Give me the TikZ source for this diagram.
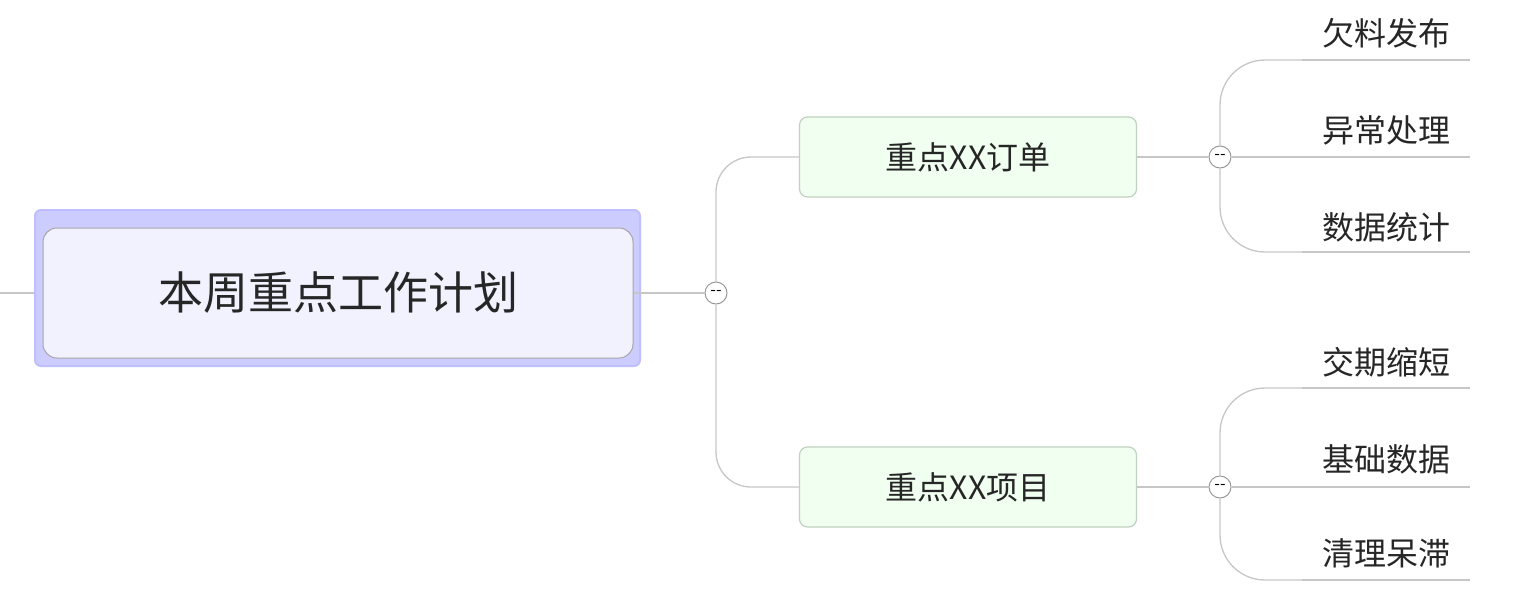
\documentclass[tikz,border=0pt]{standalone}
\usepackage{fontspec}
\newfontfamily\cjk{Noto Sans CJK SC}
\begin{document}
\begin{tikzpicture}[x=1pt,y=-1pt,
  ln/.style={draw=black!22, line width=1.3pt},
  tog/.style={circle, draw=black!40, fill=white, line width=1pt, minimum size=22pt, inner sep=0pt, font=\cjk\fontsize{16}{16}\selectfont},
  child/.style={draw=green!30!black!25, fill=green!25!black!3!white, fill=green!6, rounded corners=8pt, line width=1.2pt, minimum width=337pt, minimum height=80pt, font=\cjk\fontsize{32}{32}\selectfont, text=black!85},
  leaf/.style={font=\cjk\fontsize{32}{32}\selectfont, text=black!85, anchor=center}]
\useasboundingbox (0,0) rectangle (1529,600);
\fill[white] (0,0) rectangle (1529,600);
% main node
\node[draw=blue!25, fill=blue!20, line width=2pt, rounded corners=6pt, minimum width=605pt, minimum height=156pt] (mo) at (337.5,288) {};
\node[draw=black!35, fill=blue!5, line width=1pt, rounded corners=14pt, minimum width=590pt, minimum height=130pt, font=\cjk\fontsize{45}{45}\selectfont, text=black!85] (m) at (338,293) {本周重点工作计划};
\coordinate (l0) at (0,293);
\draw[ln] (l0) -- (mo.west |- l0);
\node[tog] (t0) at (716,293) {--};
\draw[ln] (m.east) -- (t0.west);
\node[child] (c1) at (968,157) {重点XX订单};
\node[child] (c2) at (968,487) {重点XX项目};
\draw[ln, rounded corners=35pt] (t0.north) |- (c1.west);
\draw[ln, rounded corners=35pt] (t0.south) |- (c2.west);
\node[tog] (t1) at (1220,157) {--};
\node[tog] (t2) at (1220,487) {--};
\draw[ln] (c1.east) -- (t1.west);
\draw[ln] (c2.east) -- (t2.west);
% leaves
\foreach \n/\t/\ty/\uy in {a/欠料发布/33/60, b/异常处理/130/157, c/数据统计/227/252, d/交期缩短/362/388, e/基础数据/459/487, f/清理呆滞/553/580}{
  \node[leaf] (\n) at (1386,\ty) {\t};
  \coordinate (\n s) at (1302,\uy);
  \coordinate (\n e) at (1470,\uy);
  \draw[ln] (\n s) -- (\n e);
}
\draw[ln, rounded corners=45pt] (t1.north) |- (as);
\draw[ln] (t1.east) -- (bs);
\draw[ln, rounded corners=45pt] (t1.south) |- (cs);
\draw[ln, rounded corners=45pt] (t2.north) |- (ds);
\draw[ln] (t2.east) -- (es);
\draw[ln, rounded corners=45pt] (t2.south) |- (fs);
\end{tikzpicture}
\end{document}
